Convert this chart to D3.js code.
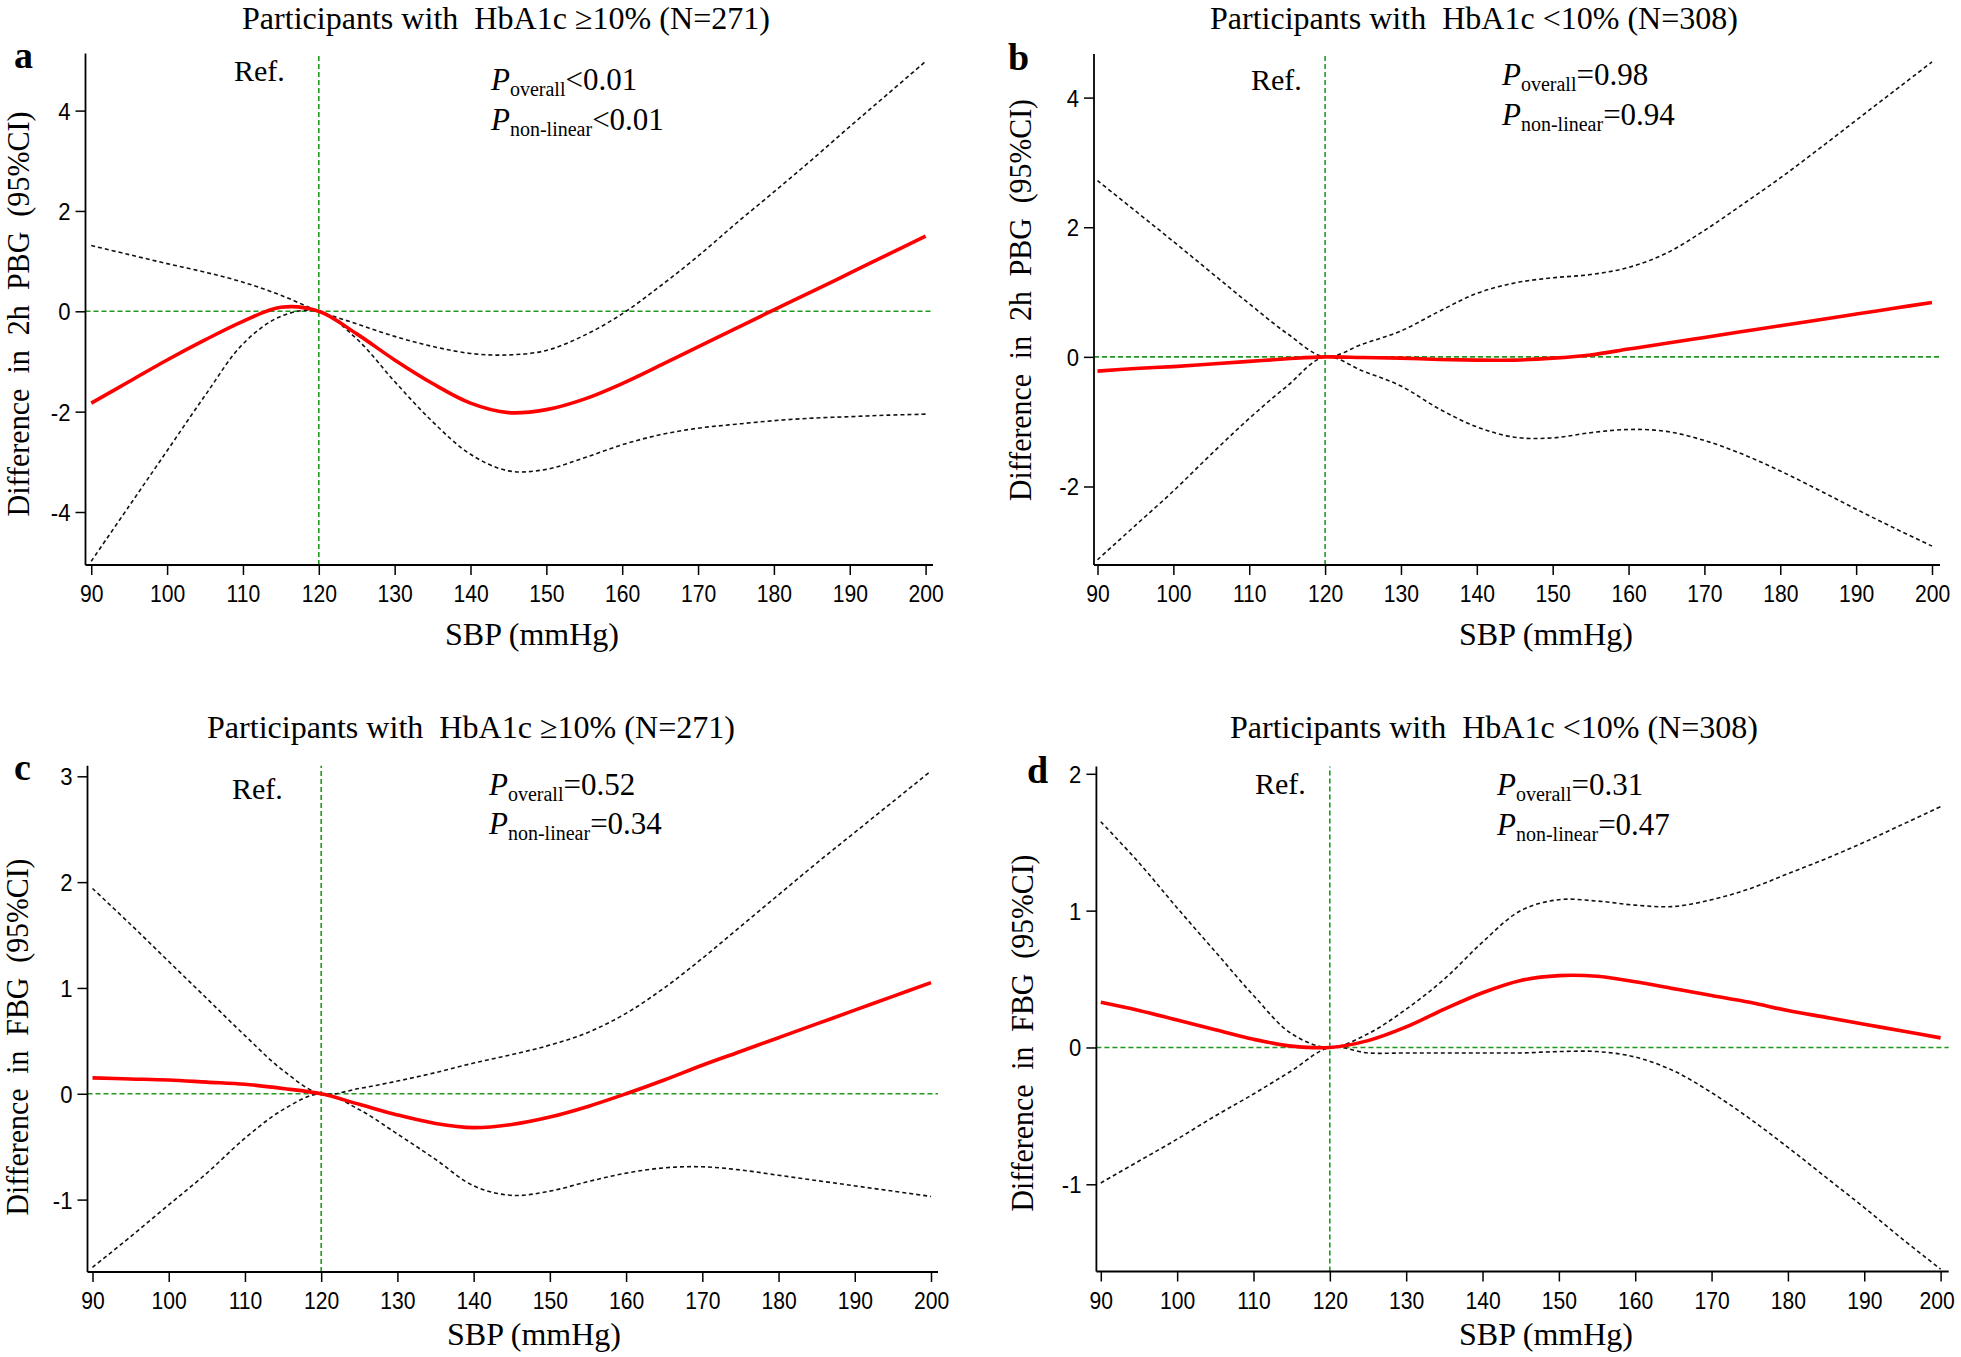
<!DOCTYPE html>
<html><head><meta charset="utf-8">
<script src="https://cdn.jsdelivr.net/npm/d3@7"></script>
<style>
html,body{margin:0;padding:0;background:#fff;}
svg{display:block;}
text{white-space:pre;}
</style></head>
<body>
<svg id="chart" width="1961" height="1357"></svg>
<script>
// ---------------- DATA ----------------
const sbp = [90,95,100,105,110,115,120,125,130,135,140,145,150,155,160,165,170,175,180,185,190,195,200];
const xTicks = [90,100,110,120,130,140,150,160,170,180,190,200];

// Panel a: 2h PBG, HbA1c >= 10%
const aEst   = [-1.83,-1.40,-0.97,-0.57,-0.20,0.08,0.00,-0.45,-0.97,-1.44,-1.83,-2.02,-1.96,-1.75,-1.44,-1.08,-0.71,-0.34,0.03,0.39,0.76,1.13,1.50];
const aLower = [-4.98,-3.88,-2.78,-1.68,-0.65,-0.10,0.00,-0.55,-1.40,-2.20,-2.85,-3.18,-3.15,-2.92,-2.66,-2.46,-2.33,-2.25,-2.18,-2.13,-2.10,-2.07,-2.05];
const aUpper = [1.31,1.13,0.95,0.78,0.58,0.32,0.00,-0.25,-0.50,-0.70,-0.84,-0.87,-0.78,-0.48,-0.05,0.50,1.10,1.75,2.38,3.02,3.68,4.33,4.98];
const aYTicks = [-4,-2,0,2,4];

// Panel b: 2h PBG, HbA1c < 10%
const bEst   = [-0.22,-0.18,-0.15,-0.11,-0.07,-0.03,0.00,-0.01,-0.02,-0.04,-0.05,-0.05,-0.02,0.03,0.12,0.21,0.30,0.39,0.48,0.57,0.66,0.75,0.84];
const bLower = [-3.13,-2.60,-2.07,-1.50,-0.95,-0.45,0.00,-0.22,-0.45,-0.80,-1.08,-1.24,-1.25,-1.17,-1.12,-1.15,-1.29,-1.50,-1.76,-2.05,-2.35,-2.64,-2.92];
const bUpper = [2.72,2.25,1.78,1.30,0.82,0.36,0.00,0.20,0.40,0.70,0.98,1.14,1.22,1.27,1.38,1.60,1.95,2.35,2.76,3.20,3.65,4.10,4.55];
const bYTicks = [-2,0,2,4];

// Panel c: FBG, HbA1c >= 10%
const cEst   = [0.15,0.14,0.13,0.11,0.09,0.05,0.00,-0.10,-0.20,-0.28,-0.32,-0.29,-0.22,-0.12,0.00,0.13,0.27,0.40,0.53,0.66,0.79,0.92,1.05];
const cLower = [-1.64,-1.35,-1.05,-0.75,-0.42,-0.15,0.00,-0.15,-0.38,-0.62,-0.87,-0.96,-0.92,-0.83,-0.75,-0.70,-0.69,-0.72,-0.77,-0.82,-0.87,-0.92,-0.97];
const cUpper = [1.94,1.60,1.25,0.90,0.55,0.22,0.00,0.05,0.12,0.20,0.29,0.37,0.46,0.58,0.76,1.00,1.28,1.58,1.88,2.18,2.47,2.76,3.05];
const cYTicks = [-1,0,1,2,3];

// Panel d: FBG, HbA1c < 10%
const dEst   = [0.33,0.27,0.20,0.13,0.06,0.01,0.00,0.05,0.15,0.28,0.40,0.49,0.525,0.52,0.48,0.43,0.38,0.33,0.27,0.22,0.17,0.12,0.07];
const dLower = [-0.99,-0.83,-0.67,-0.50,-0.34,-0.17,0.00,-0.04,-0.04,-0.04,-0.04,-0.04,-0.03,-0.03,-0.07,-0.17,-0.33,-0.52,-0.73,-0.95,-1.17,-1.40,-1.62];
const dUpper = [1.65,1.35,1.02,0.70,0.38,0.10,0.00,0.10,0.28,0.50,0.77,1.00,1.08,1.07,1.04,1.03,1.08,1.16,1.27,1.38,1.50,1.63,1.76];
const dYTicks = [-1,0,1,2];

const titles = ["Participants with  HbA1c \u226510% (N=271)","Participants with  HbA1c <10% (N=308)","Participants with  HbA1c \u226510% (N=271)","Participants with  HbA1c <10% (N=308)"];
const letters = ["a","b","c","d"];
const yLabels = ["Difference  in  2h  PBG  (95%CI)","Difference  in  2h  PBG  (95%CI)","Difference  in  FBG  (95%CI)","Difference  in  FBG  (95%CI)"];
const pOverall = ["<0.01","=0.98","=0.52","=0.31"];
const pNonLinear = ["<0.01","=0.94","=0.34","=0.47"];
const xLabel = "SBP (mmHg)";

// ---------------- LAYOUT ----------------
const layouts = [
  {axisX:85.5, x0:91.25, x1:925.6, xEnd:933, yBottom:565, yTop:53.5, yv:[4,-4], yp:[110.6,512],
   title:[506,29], letter:[14,68], ref:[234,81], px:491, prow:[90,130], ylab:[18,314], xlab:[532,645], ylabLen:405},
  {axisX:1094, x0:1097.5, x1:1932, xEnd:1940, yBottom:565, yTop:54, yv:[4,-2], yp:[97.6,486.5],
   title:[1474,29], letter:[1008,70], ref:[1251,90], px:1502, prow:[85,125], ylab:[1020,300], xlab:[1546,645], ylabLen:402},
  {axisX:87.5, x0:92.5, x1:931, xEnd:938, yBottom:1272, yTop:765.7, yv:[3,-1], yp:[776.3,1199.6],
   title:[471,738], letter:[14,780], ref:[232,799], px:489, prow:[795,834], ylab:[17,1037], xlab:[534,1345], ylabLen:357},
  {axisX:1096.4, x0:1100.8, x1:1940.6, xEnd:1948.7, yBottom:1271.5, yTop:766.6, yv:[2,-1], yp:[773.8,1184.3],
   title:[1494,738], letter:[1027,783], ref:[1255,794], px:1497, prow:[795,835], ylab:[1022,1033], xlab:[1546,1345], ylabLen:357, lastDx:-4}
];
const series = [
  {est:aEst, lo:aLower, hi:aUpper, yt:aYTicks},
  {est:bEst, lo:bLower, hi:bUpper, yt:bYTicks},
  {est:cEst, lo:cLower, hi:cUpper, yt:cYTicks},
  {est:dEst, lo:dLower, hi:dUpper, yt:dYTicks}
];

const svg = d3.select("#chart");
const SERIF = "'Liberation Serif','Times New Roman',Times,serif";
const SANS = "'Liberation Sans',Arial,Helvetica,sans-serif";
const GREEN = "#1f9a1f";

function condense(sel, f) {
  sel.each(function() {
    const w = this.getComputedTextLength();
    d3.select(this).attr("textLength", w * f).attr("lengthAdjust", "spacingAndGlyphs");
  });
}

layouts.forEach((L, i) => {
  const S = series[i];
  const g = svg.append("g");
  const x = d3.scaleLinear().domain([90,200]).range([L.x0, L.x1]);
  const y = d3.scaleLinear().domain(L.yv).range(L.yp);
  const xMin = x.invert(L.axisX), xMax = x.invert(L.xEnd);
  const yMin = y.invert(L.yBottom), yMax = y.invert(L.yTop);

  // reference lines
  g.append("line").attr("x1", x(xMin)).attr("x2", x(xMax)).attr("y1", y(0)).attr("y2", y(0))
    .attr("stroke", GREEN).attr("stroke-width", 1.6).attr("stroke-dasharray", "5,3");
  g.append("line").attr("x1", x(120)).attr("x2", x(120)).attr("y1", y(yMin)).attr("y2", y(yMax))
    .attr("stroke", GREEN).attr("stroke-width", 1.6).attr("stroke-dasharray", "5,3");

  const line = d3.line().x((d, k) => x(sbp[k])).y(d => y(d)).curve(d3.curveCatmullRom.alpha(0.5));
  [S.lo, S.hi].forEach(arr => {
    g.append("path").attr("d", line(arr)).attr("fill", "none").attr("stroke", "#111")
      .attr("stroke-width", 1.6).attr("stroke-dasharray", "4,3");
  });
  g.append("path").attr("d", line(S.est)).attr("fill", "none").attr("stroke", "#ff0000")
    .attr("stroke-width", 3.6).attr("stroke-linejoin", "round");

  // axes
  const fmt = d => String(d);
  const xAxis = d3.axisBottom(x).tickValues(xTicks).tickSize(10).tickSizeOuter(0).tickFormat(fmt);
  const gx = g.append("g").attr("transform", `translate(0,${L.yBottom})`).call(xAxis);
  gx.select(".domain").attr("d", `M${x(xMin)},0H${x(xMax)}`).attr("stroke", "#000").attr("stroke-width", 1.8);
  gx.selectAll(".tick line").attr("stroke", "#000").attr("stroke-width", 1.5);
  gx.selectAll(".tick text").attr("font-family", SANS).attr("font-size", 24).attr("fill", "#000")
    .attr("y", 37).attr("dy", 0).call(condense, 0.88);
  if (L.lastDx) gx.selectAll(".tick text").filter(d => d === 200).attr("dx", L.lastDx);

  const yAxis = d3.axisLeft(y).tickValues(S.yt).tickSize(10).tickSizeOuter(0).tickFormat(fmt);
  const gy = g.append("g").attr("transform", `translate(${L.axisX},0)`).call(yAxis);
  gy.select(".domain").attr("d", `M0,${y(yMin)}V${y(yMax)}`).attr("stroke", "#000").attr("stroke-width", 1.8);
  gy.selectAll(".tick line").attr("stroke", "#000").attr("stroke-width", 1.5);
  gy.selectAll(".tick text").attr("font-family", SANS).attr("font-size", 24).attr("fill", "#000")
    .attr("x", -15).attr("dy", "0.35em").call(condense, 0.92);

  // texts
  g.append("text").attr("x", L.title[0]).attr("y", L.title[1]).attr("text-anchor", "middle")
    .attr("font-family", SERIF).attr("font-size", 32).attr("textLength", 528).attr("lengthAdjust", "spacingAndGlyphs")
    .text(titles[i]);
  g.append("text").attr("x", L.letter[0]).attr("y", L.letter[1]).attr("font-family", SERIF)
    .attr("font-weight", "bold").attr("font-size", 38).text(letters[i]);
  g.append("text").attr("x", L.ref[0]).attr("y", L.ref[1]).attr("font-family", SERIF)
    .attr("font-size", 30).text("Ref.");

  [[ "overall", pOverall[i] ], [ "non-linear", pNonLinear[i] ]].forEach((p, r) => {
    const t = g.append("text").attr("x", L.px).attr("y", L.prow[r]).attr("font-family", SERIF).attr("font-size", 31);
    t.append("tspan").attr("font-style", "italic").text("P");
    t.append("tspan").attr("font-size", 20).attr("dy", 6).text(p[0]);
    t.append("tspan").attr("dy", -6).text(p[1]);
  });

  g.append("text").attr("transform", `translate(${L.ylab[0]},${L.ylab[1]}) rotate(-90)`)
    .attr("text-anchor", "middle").attr("dy", "0.35em").attr("font-family", SERIF)
    .attr("font-size", 32).attr("textLength", L.ylabLen).attr("lengthAdjust", "spacingAndGlyphs")
    .text(yLabels[i]);
  g.append("text").attr("x", L.xlab[0]).attr("y", L.xlab[1]).attr("text-anchor", "middle")
    .attr("font-family", SERIF).attr("font-size", 32).text(xLabel);
});
</script>
</body></html>
